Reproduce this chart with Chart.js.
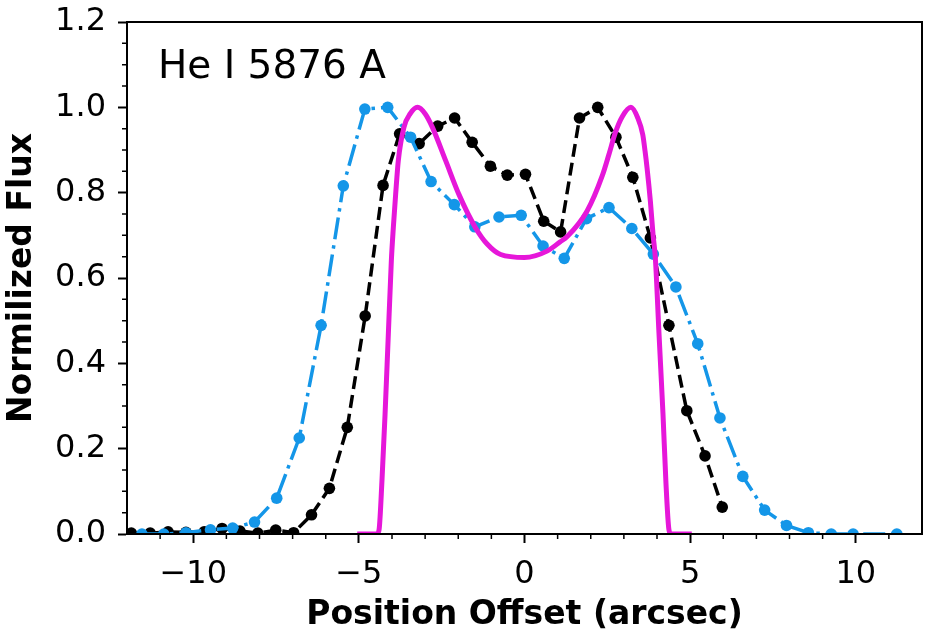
<!DOCTYPE html>
<html>
<head>
<meta charset="utf-8">
<script src="https://cdn.jsdelivr.net/npm/chart.js@4"></script>
<style>
  html, body { margin: 0; padding: 0; background: #fff; }
  #wrap { width: 935px; height: 642px; }
</style>
</head>
<body>
<div id="wrap"><canvas id="fluxChart"></canvas></div>
<script>
// observed profile, black dashed
const blackX = [-11.87, -11.30, -10.76, -10.22, -9.67, -9.13, -8.59, -8.05, -7.51, -6.97, -6.43, -5.89, -5.35, -4.81, -4.27, -3.77, -3.18, -2.62, -2.11, -1.58, -1.03, -0.52, 0.03, 0.58, 1.09, 1.66, 2.21, 2.76, 3.27, 3.80, 4.36, 4.90, 5.45, 5.97];
const blackY = [0.002, 0.002, 0.005, 0.004, 0.005, 0.013, 0.007, 0.002, 0.009, 0.003, 0.045, 0.107, 0.25, 0.511, 0.817, 0.938, 0.915, 0.956, 0.975, 0.918, 0.862, 0.841, 0.843, 0.733, 0.708, 0.975, 1.0, 0.93, 0.836, 0.694, 0.489, 0.289, 0.183, 0.063];

// second profile, blue dash-dot
const blueX = [-11.55, -10.89, -10.22, -9.48, -8.81, -8.15, -7.48, -6.80, -6.14, -5.47, -4.82, -4.13, -3.44, -2.82, -2.12, -1.50, -0.77, -0.10, 0.56, 1.20, 1.87, 2.55, 3.24, 3.89, 4.57, 5.23, 5.90, 6.59, 7.25, 7.91, 8.57, 9.26, 9.92, 11.24];
const blueY = [0.0, 0.0, 0.003, 0.01, 0.014, 0.028, 0.084, 0.225, 0.489, 0.816, 0.996, 1.0, 0.93, 0.826, 0.772, 0.72, 0.743, 0.747, 0.675, 0.646, 0.739, 0.765, 0.716, 0.656, 0.579, 0.446, 0.272, 0.135, 0.056, 0.02, 0.003, 0.0, 0.0, 0.0];

// model curve, magenta
const modelX = [-5.05, -4.45, -4.39, -4.30, -4.21, -4.12, -4.02, -3.96, -3.89, -3.81, -3.64, -3.45, -3.23, -3.00, -2.78, -2.38, -1.98, -1.48, -1.12, -0.72, 0.0, 0.68, 1.08, 1.29, 1.89, 2.34, 2.55, 2.74, 2.95, 3.21, 3.42, 3.57, 3.64, 3.70, 3.80, 3.88, 3.95, 4.06, 4.18, 4.27, 4.36, 4.42, 5.05];
const modelY = [0.0, 0.0, 0.01, 0.13, 0.28, 0.45, 0.64, 0.718, 0.796, 0.875, 0.953, 0.985, 1.0, 0.985, 0.953, 0.875, 0.796, 0.718, 0.679, 0.655, 0.648, 0.663, 0.685, 0.697, 0.757, 0.838, 0.89, 0.94, 0.978, 1.0, 0.975, 0.936, 0.897, 0.858, 0.78, 0.702, 0.647, 0.47, 0.283, 0.12, 0.01, 0.0, 0.0];

const xMajorTicks = [-10, -5, 0, 5, 10];
const xMinorTicks = [-11, -9, -8, -7, -6, -4, -3, -2, -1, 1, 2, 3, 4, 6, 7, 8, 9, 11];
const yMajorTicks = [0, 0.2, 0.4, 0.6, 0.8, 1.0, 1.2];
const yMinorTicks = [0.05, 0.1, 0.15, 0.25, 0.3, 0.35, 0.45, 0.5, 0.55, 0.65, 0.7, 0.75, 0.85, 0.9, 0.95, 1.05, 1.1, 1.15];
const lineLabel = "He I 5876 A";

const FONT = "'DejaVu Sans', sans-serif";

const toPoints = (xs, ys) => xs.map((x, i) => ({ x: x, y: ys[i] }));

// frame, minor ticks and the line label inside the axes
const frameAndMinor = {
    id: "frameAndMinor",
    afterDraw(chart) {
        const { ctx, chartArea: a, scales: { x, y } } = chart;
        ctx.save();
        ctx.strokeStyle = "#000";
        ctx.lineWidth = 1.5;
        ctx.beginPath();
        xMinorTicks.forEach(v => {
            const px = x.getPixelForValue(v);
            ctx.moveTo(px, a.bottom);
            ctx.lineTo(px, a.bottom + 5);
        });
        yMinorTicks.forEach(v => {
            const py = y.getPixelForValue(v);
            ctx.moveTo(a.left, py);
            ctx.lineTo(a.left - 5, py);
        });
        ctx.stroke();
        ctx.lineWidth = 2;
        ctx.strokeRect(a.left, a.top, a.right - a.left, a.bottom - a.top);
        ctx.fillStyle = "#000";
        ctx.font = "39px " + FONT;
        ctx.textBaseline = "alphabetic";
        ctx.fillText(lineLabel, a.left + 31, a.top + 56);
        ctx.restore();
    }
};

const ctx = document.getElementById("fluxChart").getContext("2d");

new Chart(ctx, {
    type: "line",
    data: {
        datasets: [
            {
                data: toPoints(modelX, modelY),
                borderColor: "#e617d9",
                borderWidth: 5,
                pointRadius: 0,
                cubicInterpolationMode: "monotone",
                fill: false,
                clip: 0
            },
            {
                data: toPoints(blueX, blueY),
                borderColor: "#1496e8",
                backgroundColor: "#1496e8",
                borderWidth: 3.5,
                borderDash: [22, 6, 3.5, 6],
                pointRadius: 5.8,
                pointBorderWidth: 0,
                pointBackgroundColor: "#1496e8",
                fill: false,
                clip: 0
            },
            {
                data: toPoints(blackX, blackY),
                borderColor: "#000",
                backgroundColor: "#000",
                borderWidth: 3.5,
                borderDash: [13, 6],
                pointRadius: 5.8,
                pointBorderWidth: 0,
                pointBackgroundColor: "#000",
                fill: false,
                clip: 0
            }
        ]
    },
    options: {
        responsive: true,
        maintainAspectRatio: false,
        animation: false,
        layout: { padding: { top: 22, right: 13, bottom: 0, left: 0 } },
        plugins: {
            legend: { display: false },
            tooltip: { enabled: false }
        },
        scales: {
            x: {
                type: "linear",
                min: -12,
                max: 12,
                afterBuildTicks: s => { s.ticks = xMajorTicks.map(v => ({ value: v })); },
                afterFit: s => { s.height = 108; s.paddingLeft = 0; s.paddingRight = 0; },
                ticks: {
                    color: "#000",
                    font: { family: FONT, size: 32 },
                    padding: 12,
                    maxRotation: 0,
                    autoSkip: false,
                    callback: v => String(v).replace("-", "\u2212")
                },
                grid: { drawOnChartArea: false, drawTicks: true, tickLength: 9, tickWidth: 2, tickColor: "#000" },
                border: { display: true, color: "#000", width: 2 },
                title: {
                    display: true,
                    text: "Position Offset (arcsec)",
                    color: "#000",
                    font: { family: FONT, size: 33, weight: "bold" },
                    padding: { top: 0, bottom: 7 }
                }
            },
            y: {
                type: "linear",
                min: 0,
                max: 1.2,
                afterBuildTicks: s => { s.ticks = yMajorTicks.map(v => ({ value: v })); },
                afterFit: s => { s.width = 127; s.paddingTop = 0; s.paddingBottom = 0; },
                ticks: {
                    color: "#000",
                    font: { family: FONT, size: 32 },
                    padding: 12,
                    callback: v => v.toFixed(1)
                },
                grid: { drawOnChartArea: false, drawTicks: true, tickLength: 9, tickWidth: 2, tickColor: "#000" },
                border: { display: true, color: "#000", width: 2 },
                title: {
                    display: true,
                    text: "Normilized Flux",
                    color: "#000",
                    font: { family: FONT, size: 33, weight: "bold" },
                    padding: { top: 3, bottom: 0 }
                }
            }
        }
    },
    plugins: [frameAndMinor]
});
</script>
</body>
</html>
